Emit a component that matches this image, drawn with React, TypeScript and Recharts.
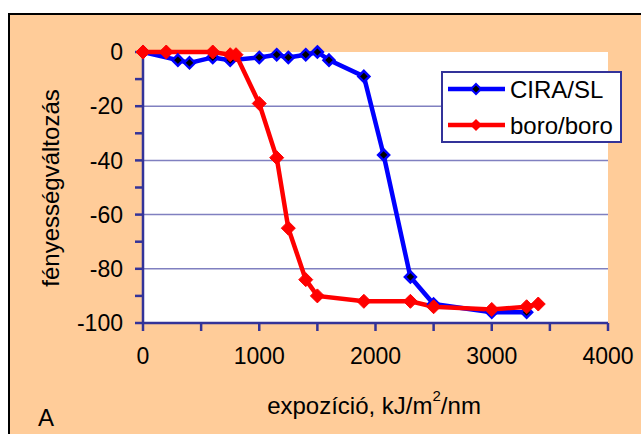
import React from 'react';
import { LineChart, Line, XAxis, YAxis, CartesianGrid, Legend, Label } from 'recharts';

// CIRA/SL
const ciraX = [0, 300, 400, 600, 750, 1000, 1150, 1250, 1400, 1500, 1600, 1900, 2070, 2300, 2500, 3000, 3300];
const ciraY = [0, -3, -4, -2, -3, -2, -1, -2, -1, 0, -3, -9, -38, -83, -93, -96, -96];

// boro/boro
const boroX = [0, 200, 600, 750, 800, 1000, 1150, 1250, 1400, 1500, 1900, 2300, 2500, 3000, 3300, 3400];
const boroY = [0, 0, 0, -1, -1, -19, -39, -65, -84, -90, -92, -92, -94, -95, -94, -93];

const xTicks = [0, 500, 1000, 1500, 2000, 2500, 3000, 3500, 4000];
const yTicks = [0, -10, -20, -30, -40, -50, -60, -70, -80, -90, -100];
const gridValues = [-20, -40, -60, -80];

const seriesNames = ['CIRA/SL', 'boro/boro'];

const ciraData = ciraX.map((x, i) => ({ x, y: ciraY[i] }));
const boroData = boroX.map((x, i) => ({ x, y: boroY[i] }));

const FONT = '"Liberation Sans", Arial, sans-serif';
const AXIS = '#333399';

function diamond(cx: number, cy: number, r: number) {
  return `M${cx},${cy - r} L${cx + r},${cy} L${cx},${cy + r} L${cx - r},${cy} Z`;
}

const ciraDot = (p: any) => (
  <path key={`c-${p.index}`} d={diamond(p.cx, p.cy, 5.5)} fill="#000" stroke="#0000ff" strokeWidth={2.5} />
);
const boroDot = (p: any) => (
  <path key={`b-${p.index}`} d={diamond(p.cx, p.cy, 7)} fill="#ff0000" stroke="#ff0000" strokeWidth={1} />
);

function LegendBox() {
  return (
    <div style={{ width: 177, height: 68, background: '#fff', border: `2px solid ${AXIS}`, fontFamily: FONT }}>
      <svg width={177} height={68}>
        <line x1={5} y1={16} x2={62} y2={16} stroke="#0000ff" strokeWidth={4.5} />
        <path d={diamond(33, 16, 5)} fill="#000" stroke="#0000ff" strokeWidth={2} />
        <text x={67} y={16} dominantBaseline="central" fontSize={24} fill="#000">{seriesNames[0]}</text>
        <line x1={5} y1={52} x2={62} y2={52} stroke="#ff0000" strokeWidth={4.5} />
        <path d={diamond(33, 52, 6)} fill="#ff0000" />
        <text x={67} y={52} dominantBaseline="central" fontSize={24} fill="#000">{seriesNames[1]}</text>
      </svg>
    </div>
  );
}

export default function App() {
  return (
    <div style={{ position: 'absolute', left: 0, top: 0, width: 641, height: 434, overflow: 'hidden', background: '#fff' }}>
      <div
        style={{
          position: 'absolute',
          left: 8,
          top: 13,
          width: 700,
          height: 500,
          background: '#ffcc99',
          border: '2px solid #000',
          boxSizing: 'border-box',
        }}
      />
      <div style={{ position: 'absolute', left: 0, top: 0 }}>
        <LineChart width={641} height={434} margin={{ top: 52, right: 33, left: 0, bottom: 0 }}>
          <CartesianGrid
            fill="#fff"
            vertical={false}
            horizontalValues={gridValues}
            stroke="#8080c0"
            strokeWidth={1.5}
          />
          <XAxis
            type="number"
            dataKey="x"
            domain={[0, 4000]}
            ticks={xTicks}
            tickFormatter={(v: number) => (v % 1000 === 0 ? String(v) : '')}
            height={111}
            stroke={AXIS}
            strokeWidth={2.5}
            tickSize={8}
            tickMargin={17}
            tick={{ fill: '#000', fontSize: 23, fontFamily: FONT }}
            interval={0}
          >
            <Label
              content={() => (
                <text x={374} y={405} textAnchor="middle" dominantBaseline="central" fontSize={24} fontFamily={FONT} fill="#000">
                  <tspan>expozíció, kJ/m</tspan>
                  <tspan dy={-10} fontSize={15}>2</tspan>
                  <tspan dy={10}>/nm</tspan>
                </text>
              )}
            />
          </XAxis>
          <XAxis xAxisId="top" orientation="top" type="number" dataKey="x" domain={[0, 4000]} height={0} tick={false} tickLine={false} stroke={AXIS} strokeWidth={2} />
          <YAxis
            type="number"
            dataKey="y"
            domain={[-100, 0]}
            ticks={yTicks}
            tickFormatter={(v: number) => (v % 20 === 0 ? String(v) : '')}
            width={143}
            stroke={AXIS}
            strokeWidth={2.5}
            tickSize={8}
            tickMargin={12}
            tick={{ fill: '#000', fontSize: 23, fontFamily: FONT }}
            interval={0}
          >
            <Label
              content={() => (
                <text
                  x={50}
                  y={188}
                  transform="rotate(-90 50 188)"
                  textAnchor="middle"
                  dominantBaseline="central"
                  fontSize={24}
                  fontFamily={FONT}
                  fill="#000"
                >
                  fényességváltozás
                </text>
              )}
            />
          </YAxis>
          <YAxis yAxisId="right" orientation="right" type="number" domain={[-100, 0]} width={0} tick={false} tickLine={false} stroke={AXIS} strokeWidth={2} />
          <Legend
            layout="vertical"
            align="center"
            verticalAlign="middle"
            wrapperStyle={{ left: 441, top: 71, width: 181, height: 72 }}
            content={() => <LegendBox />}
          />
          <Line
            data={ciraData}
            dataKey="y"
            name={seriesNames[0]}
            stroke="#0000ff"
            strokeWidth={4.5}
            dot={ciraDot}
            activeDot={false}
            isAnimationActive={false}
          />
          <Line
            data={boroData}
            dataKey="y"
            name={seriesNames[1]}
            stroke="#ff0000"
            strokeWidth={4.5}
            dot={boroDot}
            activeDot={false}
            isAnimationActive={false}
          />
        </LineChart>
      </div>
      <div
        style={{
          position: 'absolute',
          left: 38,
          top: 405,
          fontFamily: FONT,
          fontSize: 24,
          lineHeight: '26px',
          color: '#000',
        }}
      >
        A
      </div>
    </div>
  );
}
